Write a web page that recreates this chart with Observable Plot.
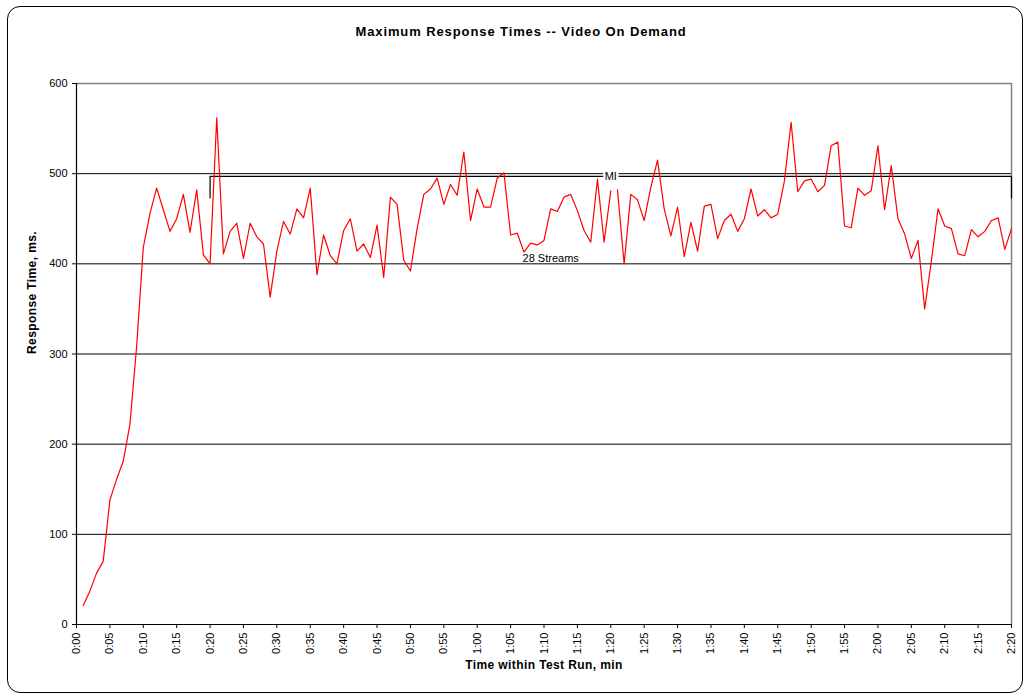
<!DOCTYPE html>
<html><head><meta charset="utf-8">
<script src="https://cdn.jsdelivr.net/npm/d3@7"></script>
<script src="https://cdn.jsdelivr.net/npm/@observablehq/plot@0.6"></script>
<style>
html,body{margin:0;padding:0;background:#fff;}
#wrap{position:relative;width:1025px;height:694px;overflow:hidden;font-family:"Liberation Sans",Arial,sans-serif;}
#border{position:absolute;left:7px;top:6px;width:1014px;height:685px;border:1.5px solid #000;border-radius:13px;pointer-events:none;}
#title{height:60px;box-sizing:border-box;padding-top:24px;padding-left:17px;text-align:center;font-size:13px;font-weight:bold;line-height:16px;letter-spacing:0.9px;color:#000;}
#chart svg{display:block;}
</style></head>
<body><div id="wrap"><div id="title"></div><div id="chart"></div><div id="border"></div></div>
<script>
const chartTitle = "Maximum Response Times -- Video On Demand";
const xLabel = "Time within Test Run, min";
const yLabel = "Response Time, ms.";
// maximum response time (ms) for each minute of the run, 0:01 .. 2:20
const values = [
  21, 37, 57, 70, 138, 161, 181, 222, 308, 418,
  456, 484, 460, 436, 450, 477, 435, 482, 410, 400,
  562, 411, 436, 445, 406, 445, 430, 422, 363, 414,
  447, 433, 461, 451, 484, 388, 432, 409, 400, 437,
  450, 414, 422, 407, 443, 385, 474, 466, 404, 392,
  439, 477, 483, 495, 466, 488, 476, 524, 448, 483,
  463, 463, 495, 501, 432, 434, 413, 423, 421, 426,
  461, 458, 474, 477, 459, 437, 424, 494, 424, 481,
  482, 400, 477, 471, 448, 485, 515, 461, 431, 463,
  408, 446, 414, 464, 466, 428, 448, 455, 436, 450,
  483, 453, 460, 451, 455, 492, 557, 480, 492, 494,
  480, 487, 531, 535, 442, 440, 484, 476, 481, 531,
  460, 509, 450, 433, 406, 426, 350, 403, 461, 442,
  439, 411, 409, 438, 430, 436, 448, 451, 416, 439
];
const firstMinute = 1;
const gapAfterMinute = 80; // the line is broken between 1:20 and 1:21
const xTickLabels = ["0:00","0:05","0:10","0:15","0:20","0:25","0:30","0:35","0:40","0:45",
  "0:50","0:55","1:00","1:05","1:10","1:15","1:20","1:25","1:30","1:35","1:40","1:45",
  "1:50","1:55","2:00","2:05","2:10","2:15","2:20"];
const xTickStep = 5;
const yTicks = [0, 100, 200, 300, 400, 500, 600];
// bracket annotation "MI" / "28 Streams"
const bracketFrom = 20, bracketTo = 140, bracketLevel = 497, bracketFoot = 473;
const bracketLabel = "MI";
const phaseLabel = {t: 71, v: 406, text: "28 Streams"};

document.getElementById("title").textContent = chartTitle;

const data = values.map((v, i) => ({t: firstMinute + i, v, seg: firstMinute + i > gapAfterMinute ? 1 : 0}));
const xTicks = xTickLabels.map((_, i) => i * xTickStep);
const bracket = [
  {t: bracketFrom, v: bracketFoot}, {t: bracketFrom, v: bracketLevel},
  {t: bracketTo, v: bracketLevel}, {t: bracketTo, v: bracketFoot}
];

const chart = Plot.plot({
  width: 1025, height: 634,
  marginTop: 23, marginBottom: 70, marginLeft: 76, marginRight: 14,
  style: {fontFamily: "'Liberation Sans', Arial, sans-serif", fontSize: "11px", color: "#000", background: "transparent", overflow: "visible"},
  x: {domain: [0, 140]},
  y: {domain: [0, 600]},
  marks: [
    Plot.ruleY(yTicks.filter(d => d > 0 && d < 600), {stroke: "#000", strokeWidth: 1}),
    Plot.ruleY([600], {stroke: "#808080", strokeWidth: 1.5}),
    Plot.ruleX([140], {stroke: "#808080", strokeWidth: 1.5}),
    Plot.line(bracket, {x: "t", y: "v", stroke: "#000", strokeWidth: 1.2}),
    Plot.line(data, {x: "t", y: "v", z: "seg", stroke: "#ff0000", strokeWidth: 1.2}),
    Plot.ruleX([0], {stroke: "#000", strokeWidth: 1.2}),
    Plot.ruleY([0], {stroke: "#000", strokeWidth: 1.2}),
    Plot.axisY({ticks: yTicks, tickSize: 4, tickPadding: 5, label: null, fontSize: 11}),
    Plot.axisX({ticks: xTicks, tickFormat: d => xTickLabels[Math.round(d / xTickStep)], tickRotate: -90, tickSize: 4, tickPadding: 4, label: null, fontSize: 11}),
    Plot.text([phaseLabel], {x: "t", y: "v", text: "text", fontSize: 11, fill: "#000"}),
    Plot.text([bracketLabel], {x: () => (bracketFrom + bracketTo) / 2, y: () => bracketLevel, text: d => d, fontSize: 11, fill: "#000", stroke: "#fff", strokeWidth: 5, paintOrder: "stroke"}),
    Plot.text([yLabel], {frameAnchor: "left", dx: -44, rotate: -90, text: d => d, fontSize: 12, fontWeight: "bold", fill: "#000"}),
    Plot.text([xLabel], {frameAnchor: "bottom", dy: 44, text: d => d, fontSize: 12, fontWeight: "bold", fill: "#000"})
  ]
});
d3.select(chart).selectAll("text").filter(function() { const t = this.textContent; return t === xLabel || t === yLabel; })
  .attr("letter-spacing", "0.4px");
document.getElementById("chart").appendChild(chart);
</script></body></html>
